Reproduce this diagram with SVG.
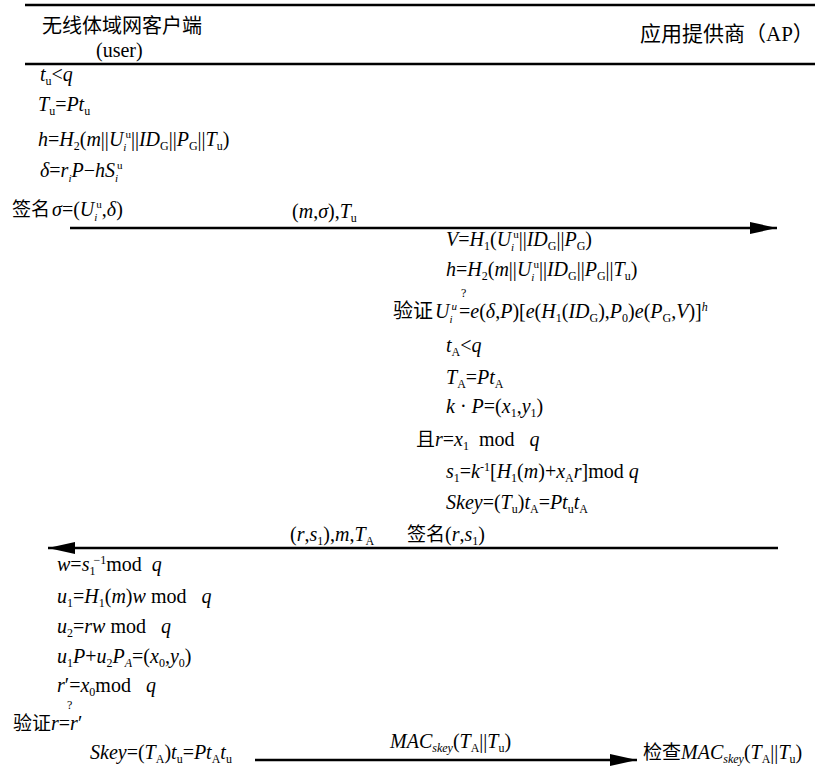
<svg xmlns="http://www.w3.org/2000/svg" width="815" height="771" viewBox="0 0 815 771">
<defs>
<style>
text{font-family:"Liberation Serif","Noto Sans CJK SC",serif;font-size:20px;fill:#000}
.cn{font-size:19px}
.i{font-style:italic}
.s{font-size:12px;baseline-shift:-4px;font-style:normal}
.si{font-size:12px;baseline-shift:-4px;font-style:italic}
.p{font-size:12px;baseline-shift:7px;font-style:normal}
.pi{font-size:12px;baseline-shift:7px;font-style:italic}
.ss{font-size:11px;baseline-shift:-5px;font-style:italic}
.sp{font-size:11px;baseline-shift:8px;font-style:normal}
.spi{font-size:11px;baseline-shift:8px;font-style:italic}
.q{font-size:12px}
.rule{stroke:#000;stroke-width:2.5}
.arr{stroke:#000;stroke-width:2.5;fill:none;marker-end:url(#ah)}
</style>
<marker id="ah" markerUnits="userSpaceOnUse" markerWidth="28" markerHeight="14" refX="27" refY="7" orient="auto">
<path d="M0,1 L27,7 L0,13 Z" fill="#000"/>
</marker>
</defs>
<rect width="815" height="771" fill="#fff"/>
<g id="header">
<line class="rule" x1="25" y1="5" x2="815" y2="5"/>
<line class="rule" x1="25" y1="64" x2="815" y2="64"/>
<text x="42" y="33" style="font-size:20px">无线体域网客户端</text>
<text x="96" y="57">(user)</text>
<text x="640" y="41" style="font-size:21px">应用提供商（AP）</text>
</g>
<g id="connectors">
<line class="arr" x1="70" y1="228" x2="777" y2="228"/>
<line class="arr" x1="778" y1="548" x2="48" y2="548"/>
<line class="arr" x1="255" y1="760" x2="637" y2="760"/>
</g>
<g id="user-compute">
<text x="40" y="81"><tspan class="i">t</tspan><tspan class="s">u</tspan>&lt;<tspan class="i">q</tspan></text>
<text x="38" y="111"><tspan class="i">T</tspan><tspan class="s">u</tspan>=<tspan class="i">Pt</tspan><tspan class="s">u</tspan></text>
<text x="38" y="146"><tspan class="i">h</tspan>=<tspan class="i">H</tspan><tspan class="s">2</tspan>(<tspan class="i">m</tspan>||<tspan class="i">U</tspan><tspan class="ss">i</tspan><tspan class="sp" dx="-1">u</tspan>||<tspan class="i">ID</tspan><tspan class="s">G</tspan>||<tspan class="i">P</tspan><tspan class="s">G</tspan>||<tspan class="i">T</tspan><tspan class="s">u</tspan>)</text>
<text x="40" y="177"><tspan class="i">δ</tspan>=<tspan class="i">r</tspan><tspan class="ss">i</tspan><tspan class="i">P</tspan>−<tspan class="i">hS</tspan><tspan class="ss">i</tspan><tspan class="sp" dx="-1">u</tspan></text>
<text x="12" y="216"><tspan class="cn">签名</tspan><tspan class="i" dx="2">σ</tspan>=(<tspan class="i">U</tspan><tspan class="ss">i</tspan><tspan class="sp" dx="-1">u</tspan>,<tspan class="i">δ</tspan>)</text>
</g>
<g id="msg1-label">
<text x="292" y="218">(<tspan class="i">m</tspan>,<tspan class="i">σ</tspan>),<tspan class="i">T</tspan><tspan class="s">u</tspan></text>
</g>
<g id="ap-compute">
<text x="446" y="246"><tspan class="i">V</tspan>=<tspan class="i">H</tspan><tspan class="s">1</tspan>(<tspan class="i">U</tspan><tspan class="ss">i</tspan><tspan class="sp" dx="-1">u</tspan>||<tspan class="i">ID</tspan><tspan class="s">G</tspan>||<tspan class="i">P</tspan><tspan class="s">G</tspan>)</text>
<text x="446" y="276"><tspan class="i">h</tspan>=<tspan class="i">H</tspan><tspan class="s">2</tspan>(<tspan class="i">m</tspan>||<tspan class="i">U</tspan><tspan class="ss">i</tspan><tspan class="sp" dx="-1">u</tspan>||<tspan class="i">ID</tspan><tspan class="s">G</tspan>||<tspan class="i">P</tspan><tspan class="s">G</tspan>||<tspan class="i">T</tspan><tspan class="s">u</tspan>)</text>
<text x="393" y="318" style="font-size:20px">验证</text>
<text x="435" y="318"><tspan class="i">U</tspan><tspan class="ss">i</tspan><tspan class="spi" dx="-1">u</tspan><tspan dx="2">=</tspan><tspan class="i">e</tspan>(<tspan class="i">δ</tspan>,<tspan class="i">P</tspan>)[<tspan class="i">e</tspan>(<tspan class="i">H</tspan><tspan class="s">1</tspan>(<tspan class="i">ID</tspan><tspan class="s">G</tspan>),<tspan class="i">P</tspan><tspan class="s">0</tspan>)<tspan class="i">e</tspan>(<tspan class="i">P</tspan><tspan class="s">G</tspan>,<tspan class="i">V</tspan>)]<tspan class="pi">h</tspan></text>
<text class="q" x="461" y="297">?</text>
<text x="446" y="352"><tspan class="i">t</tspan><tspan class="s">A</tspan>&lt;<tspan class="i">q</tspan></text>
<text x="446" y="384"><tspan class="i">T</tspan><tspan class="s">A</tspan>=<tspan class="i">Pt</tspan><tspan class="s">A</tspan></text>
<text x="446" y="413"><tspan class="i">k</tspan> · <tspan class="i">P</tspan>=(<tspan class="i">x</tspan><tspan class="s">1</tspan>,<tspan class="i">y</tspan><tspan class="s">1</tspan>)</text>
<text x="416" y="446" xml:space="preserve"><tspan class="cn">且</tspan><tspan class="i">r</tspan>=<tspan class="i">x</tspan><tspan class="s">1</tspan>  mod   <tspan class="i">q</tspan></text>
<text x="446" y="478" xml:space="preserve"><tspan class="i">s</tspan><tspan class="s">1</tspan>=<tspan class="i">k</tspan><tspan class="p">-1</tspan>[<tspan class="i">H</tspan><tspan class="s">1</tspan>(<tspan class="i">m</tspan>)+<tspan class="i">x</tspan><tspan class="s">A</tspan><tspan class="i">r</tspan>]mod <tspan class="i">q</tspan></text>
<text x="446" y="509"><tspan class="i">Skey</tspan>=(<tspan class="i">T</tspan><tspan class="s">u</tspan>)<tspan class="i">t</tspan><tspan class="s">A</tspan>=<tspan class="i">Pt</tspan><tspan class="s">u</tspan><tspan class="i">t</tspan><tspan class="s">A</tspan></text>
</g>
<g id="msg2-label">
<text x="290" y="541">(<tspan class="i">r</tspan>,<tspan class="i">s</tspan><tspan class="s">1</tspan>),<tspan class="i">m</tspan>,<tspan class="i">T</tspan><tspan class="s">A</tspan></text>
<text x="407" y="541"><tspan class="cn">签名</tspan>(<tspan class="i">r</tspan>,<tspan class="i">s</tspan><tspan class="s">1</tspan>)</text>
</g>
<g id="user-verify">
<text x="57" y="571" xml:space="preserve"><tspan class="i">w</tspan>=<tspan class="i">s</tspan><tspan class="s">1</tspan><tspan class="p" dx="-2">−1</tspan>mod  <tspan class="i">q</tspan></text>
<text x="57" y="603" xml:space="preserve"><tspan class="i">u</tspan><tspan class="s">1</tspan>=<tspan class="i">H</tspan><tspan class="s">1</tspan>(<tspan class="i">m</tspan>)<tspan class="i">w</tspan> mod   <tspan class="i">q</tspan></text>
<text x="57" y="633" xml:space="preserve"><tspan class="i">u</tspan><tspan class="s">2</tspan>=<tspan class="i">rw</tspan> mod   <tspan class="i">q</tspan></text>
<text x="57" y="663"><tspan class="i">u</tspan><tspan class="s">1</tspan><tspan class="i">P</tspan>+<tspan class="i">u</tspan><tspan class="s">2</tspan><tspan class="i">P</tspan><tspan class="si">A</tspan>=(<tspan class="i">x</tspan><tspan class="s">0</tspan>,<tspan class="i">y</tspan><tspan class="s">0</tspan>)</text>
<text x="57" y="692" xml:space="preserve"><tspan class="i">r</tspan>′=<tspan class="i">x</tspan><tspan class="s">0</tspan>mod   <tspan class="i">q</tspan></text>
<text x="13" y="730" style="font-size:19px">验证</text>
<text x="51" y="730"><tspan class="i">r</tspan>=<tspan class="i">r</tspan>′</text>
<text class="q" x="67" y="709.4">?</text>
<text x="90" y="759"><tspan class="i">Skey</tspan>=(<tspan class="i">T</tspan><tspan class="s">A</tspan>)<tspan class="i">t</tspan><tspan class="s">u</tspan>=<tspan class="i">Pt</tspan><tspan class="s">A</tspan><tspan class="i">t</tspan><tspan class="s">u</tspan></text>
</g>
<g id="msg3-label">
<text x="390" y="748"><tspan class="i">MAC</tspan><tspan class="si">skey</tspan>(<tspan class="i">T</tspan><tspan class="s">A</tspan>||<tspan class="i">T</tspan><tspan class="s">u</tspan>)</text>
</g>
<g id="ap-check">
<text x="643" y="759"><tspan class="cn">检查</tspan><tspan class="i">MAC</tspan><tspan class="si">skey</tspan>(<tspan class="i">T</tspan><tspan class="s">A</tspan>||<tspan class="i">T</tspan><tspan class="s">u</tspan>)</text>
</g>
</svg>
